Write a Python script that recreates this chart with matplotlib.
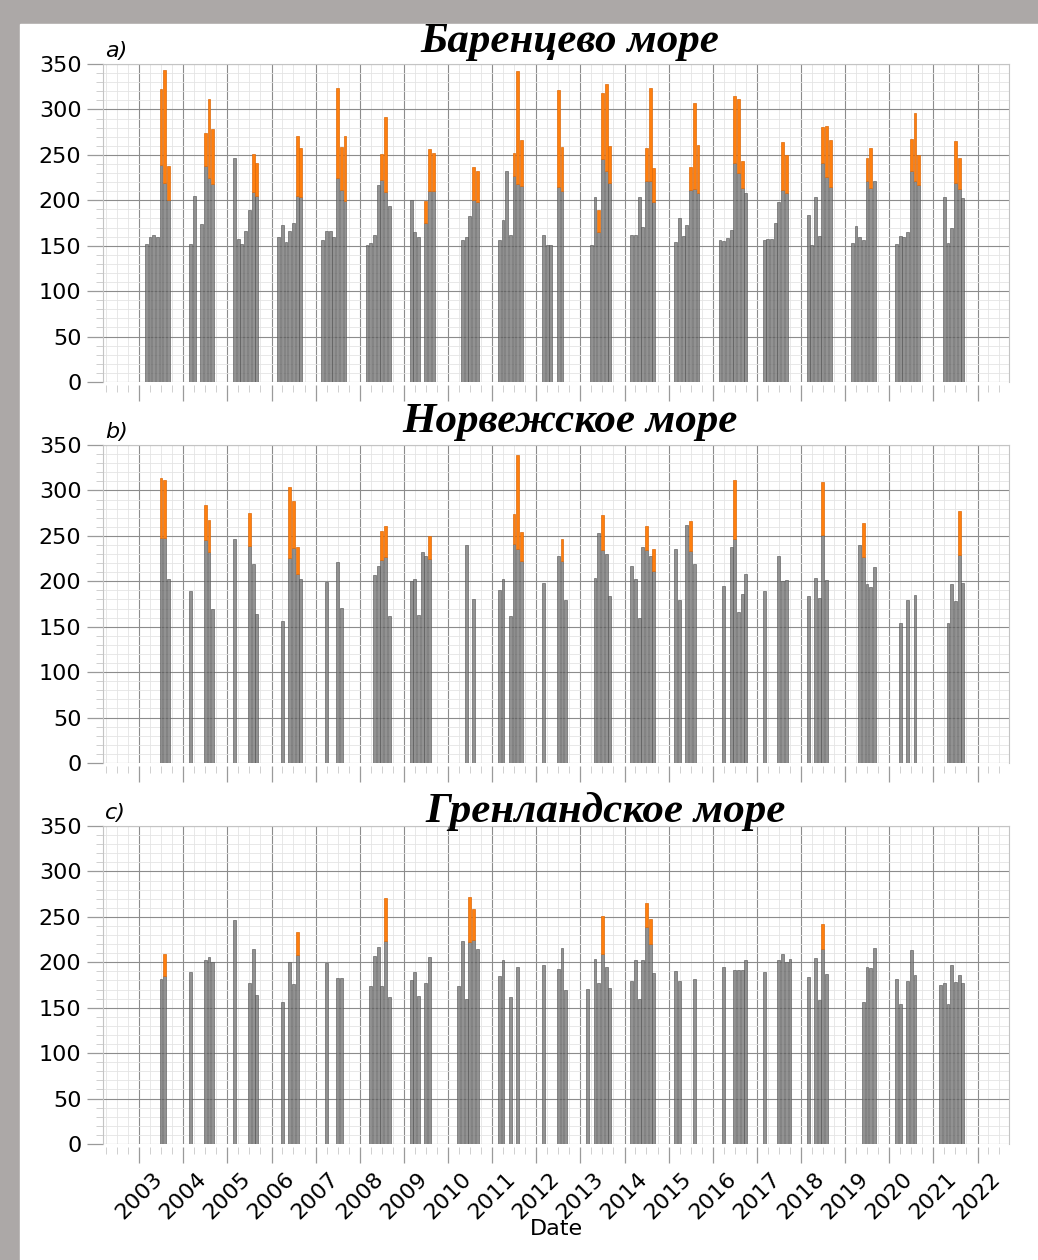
import matplotlib
matplotlib.use("Agg")
import matplotlib.pyplot as plt
import matplotlib.dates as mdates
from matplotlib.patches import Rectangle
from matplotlib.ticker import MultipleLocator
import pandas as pd

# Баренцево море: month, base value (grey), top of orange part (None = no orange)
barents_months = [
    "2003-03", "2003-04", "2003-05", "2003-06", "2003-07", "2003-08", "2003-09",
    "2004-03", "2004-04", "2004-06", "2004-07", "2004-08", "2004-09",
    "2005-03", "2005-04", "2005-05", "2005-06", "2005-07", "2005-08", "2005-09",
    "2006-03", "2006-04", "2006-05", "2006-06", "2006-07", "2006-08", "2006-09",
    "2007-03", "2007-04", "2007-05", "2007-06", "2007-07", "2007-08", "2007-09",
    "2008-03", "2008-04", "2008-05", "2008-06", "2008-07", "2008-08", "2008-09",
    "2009-03", "2009-04", "2009-05", "2009-07", "2009-08", "2009-09",
    "2010-05", "2010-06", "2010-07", "2010-08", "2010-09",
    "2011-03", "2011-04", "2011-05", "2011-06", "2011-07", "2011-08", "2011-09",
    "2012-03", "2012-04", "2012-05", "2012-07", "2012-08",
    "2013-04", "2013-05", "2013-06", "2013-07", "2013-08", "2013-09",
    "2014-03", "2014-04", "2014-05", "2014-06", "2014-07", "2014-08", "2014-09",
    "2015-03", "2015-04", "2015-05", "2015-06", "2015-07", "2015-08", "2015-09",
    "2016-03", "2016-04", "2016-05", "2016-06", "2016-07", "2016-08", "2016-09", "2016-10",
    "2017-03", "2017-04", "2017-05", "2017-06", "2017-07", "2017-08", "2017-09",
    "2018-03", "2018-04", "2018-05", "2018-06", "2018-07", "2018-08", "2018-09",
    "2019-03", "2019-04", "2019-05", "2019-06", "2019-07", "2019-08", "2019-09",
    "2020-03", "2020-04", "2020-05", "2020-06", "2020-07", "2020-08", "2020-09",
    "2021-04", "2021-05", "2021-06", "2021-07", "2021-08", "2021-09",
]
barents_base = [
    152, 160, 162, 160, 239, 219, 200,
    152, 205, 174, 238, 225, 218,
    246, 157, 152, 166, 189, 209, 205,
    160, 173, 154, 166, 175, 205, 204,
    156, 166, 166, 160, 225, 211, 199,
    151, 153, 162, 217, 222, 209, 194,
    200, 165, 160, 175, 210, 210,
    156, 160, 183, 200, 198,
    156, 178, 232, 162, 227, 218, 216,
    162, 151, 151, 215, 210,
    151, 204, 165, 245, 232, 219,
    162, 162, 204, 171, 221, 221, 198,
    154, 180, 161, 173, 211, 212, 208,
    156, 155, 159, 167, 241, 230, 214, 208,
    156, 157, 157, 175, 198, 211, 208,
    184, 151, 204, 161, 241, 226, 215,
    153, 172, 160, 156, 221, 214, 221,
    152, 161, 160, 165, 232, 221, 217,
    204, 153, 169, 219, 212, 203,
]
barents_peak = [
    None, None, None, None, 323, 343, 238,
    None, None, None, 274, 312, 279,
    None, None, None, None, None, 251, 241,
    None, None, None, None, None, 271, 257,
    None, None, None, None, 324, 259, 271,
    None, None, None, None, 251, 292, None,
    None, None, None, 199, 256, 252,
    None, None, None, 237, 232,
    None, None, None, None, 252, 342, 266,
    None, None, None, 321, 259,
    None, None, 189, 318, 328, 260,
    None, None, None, None, 258, 324, 236,
    None, None, None, None, 237, 307, 261,
    None, None, None, None, 315, 311, 243, None,
    None, None, None, None, None, 264, 250,
    None, None, None, None, 281, 282, 266,
    None, None, None, None, 246, 257, None,
    None, None, None, None, 268, 296, 250,
    None, None, None, 265, 246, None,
]

# Норвежское море
norway_months = [
    "2003-07", "2003-08", "2003-09",
    "2004-03", "2004-07", "2004-08", "2004-09",
    "2005-03", "2005-07", "2005-08", "2005-09",
    "2006-04", "2006-06", "2006-07", "2006-08", "2006-09",
    "2007-04", "2007-07", "2007-08",
    "2008-05", "2008-06", "2008-07", "2008-08", "2008-09",
    "2009-03", "2009-04", "2009-05", "2009-06", "2009-07", "2009-08",
    "2010-06", "2010-08",
    "2011-03", "2011-04", "2011-06", "2011-07", "2011-08", "2011-09",
    "2012-03", "2012-07", "2012-08", "2012-09",
    "2013-05", "2013-06", "2013-07", "2013-08", "2013-09",
    "2014-03", "2014-04", "2014-05", "2014-06", "2014-07", "2014-08", "2014-09",
    "2015-03", "2015-04", "2015-06", "2015-07", "2015-08",
    "2016-04", "2016-06", "2016-07", "2016-08", "2016-09", "2016-10",
    "2017-03", "2017-07", "2017-08", "2017-09",
    "2018-03", "2018-05", "2018-06", "2018-07", "2018-08",
    "2019-05", "2019-06", "2019-07", "2019-08", "2019-09",
    "2020-04", "2020-06", "2020-08",
    "2021-05", "2021-06", "2021-07", "2021-08", "2021-09",
]
norway_base = [
    248, 248, 203,
    189, 245, 232, 170,
    246, 239, 219, 164,
    156, 226, 237, 208, 203,
    199, 221, 171,
    207, 217, 223, 227, 162,
    200, 202, 163, 232, 228, 224,
    240, 180,
    190, 202, 162, 241, 235, 222,
    198, 228, 222, 179,
    204, 253, 234, 230, 184,
    217, 203, 160, 238, 234, 228, 211,
    235, 179, 262, 233, 219,
    195, 238, 246, 166, 186, 208,
    189, 228, 200, 201,
    184, 204, 182, 251, 201,
    240, 227, 197, 194, 216,
    154, 179, 185,
    154, 197, 178, 229, 198,
]
norway_peak = [
    314, 311, None,
    None, 284, 267, None,
    None, 275, None, None,
    None, 304, 288, 238, None,
    None, None, None,
    None, None, 255, 261, None,
    None, None, None, None, None, 250,
    None, None,
    None, None, None, 274, 339, 254,
    None, None, 247, None,
    None, None, 273, None, None,
    None, None, None, None, 261, None, 236,
    None, None, None, 266, None,
    None, None, 311, None, None, None,
    None, None, None, None,
    None, None, None, 309, None,
    None, 264, None, None, None,
    None, None, None,
    None, None, None, 277, None,
]

# Гренландское море
greenland_months = [
    "2003-07", "2003-08",
    "2004-03", "2004-07", "2004-08", "2004-09",
    "2005-03", "2005-07", "2005-08", "2005-09",
    "2006-04", "2006-06", "2006-07", "2006-08",
    "2007-04", "2007-07", "2007-08",
    "2008-04", "2008-05", "2008-06", "2008-07", "2008-08", "2008-09",
    "2009-03", "2009-04", "2009-05", "2009-07", "2009-08",
    "2010-04", "2010-05", "2010-06", "2010-07", "2010-08", "2010-09",
    "2011-03", "2011-04", "2011-06", "2011-08",
    "2012-03", "2012-07", "2012-08", "2012-09",
    "2013-03", "2013-05", "2013-06", "2013-07", "2013-08", "2013-09",
    "2014-03", "2014-04", "2014-05", "2014-06", "2014-07", "2014-08", "2014-09",
    "2015-03", "2015-04", "2015-08",
    "2016-04", "2016-07", "2016-08", "2016-09", "2016-10",
    "2017-03", "2017-07", "2017-08", "2017-09", "2017-10",
    "2018-03", "2018-05", "2018-06", "2018-07", "2018-08",
    "2019-06", "2019-07", "2019-08", "2019-09",
    "2020-03", "2020-04", "2020-06", "2020-07", "2020-08",
    "2021-03", "2021-04", "2021-05", "2021-06", "2021-07", "2021-08", "2021-09",
]
greenland_base = [
    182, 185,
    189, 203, 206, 200,
    246, 177, 215, 164,
    156, 200, 176, 208,
    199, 183, 183,
    174, 207, 217, 174, 223, 162,
    180, 189, 163, 177, 206,
    174, 223, 160, 222, 225, 215,
    185, 202, 162, 195,
    197, 193, 216, 170,
    171, 204, 177, 209, 195, 172,
    179, 202, 160, 202, 239, 220, 188,
    190, 179, 182,
    195, 192, 192, 192, 203,
    189, 202, 209, 200, 204,
    184, 205, 159, 215, 187,
    156, 195, 194, 216,
    182, 154, 179, 213, 186,
    175, 177, 154, 197, 178, 186, 177,
]
greenland_peak = [
    None, 209,
    None, None, None, None,
    None, None, None, None,
    None, None, None, 233,
    None, None, None,
    None, None, None, None, 271, None,
    None, None, None, None, None,
    None, None, None, 272, 259, None,
    None, None, None, None,
    None, None, None, None,
    None, None, None, 251, None, None,
    None, None, None, None, 265, 248, None,
    None, None, None,
    None, None, None, None, None,
    None, None, None, None, None,
    None, None, None, 242, None,
    None, None, None, None,
    None, None, None, None, None,
    None, None, None, None, None, None, None,
]

titles = ["Баренцево море", "Норвежское море", "Гренландское море"]
letters = ["a)", "b)", "c)"]

W, H = 1038, 1260
fig = plt.figure(figsize=(W / 100, H / 100), dpi=100, facecolor="#aca8a7")
fig.patches.append(Rectangle((20 / W, 0), 1 - 20 / W, 1 - 24 / H,
                             transform=fig.transFigure, color="white", zorder=-10))


def draw_panel(ax, months, base, peak, letter, show_labels):
    x = pd.to_datetime(months)
    ax.bar(x, base, width=24, color="#7f7f7f", alpha=0.85,
           edgecolor="#555555", linewidth=0.5, zorder=2)
    ox = [d for d, p in zip(x, peak) if p is not None]
    ob = [b for b, p in zip(base, peak) if p is not None]
    oh = [p - b for b, p in zip(base, peak) if p is not None]
    ax.bar(ox, oh, bottom=ob, width=24, color="#ff7f0e",
           edgecolor="#db6a0c", linewidth=0.5, zorder=2)

    ax.set_ylim(0, 350)
    ax.set_yticks(range(0, 351, 50))
    ax.yaxis.set_minor_locator(MultipleLocator(10))
    ax.set_xlim(pd.Timestamp("2002-03-08"), pd.Timestamp("2022-09-18"))
    ax.xaxis.set_major_locator(mdates.YearLocator())
    ax.xaxis.set_major_formatter(mdates.DateFormatter("%Y"))
    ax.xaxis.set_minor_locator(mdates.MonthLocator(bymonth=[1, 4, 7, 10]))

    ax.grid(which="major", color="#8c8c8c", linewidth=0.8, zorder=1)
    ax.grid(which="minor", color="#e4e4e4", linewidth=0.6, zorder=1)
    ax.set_axisbelow(True)
    ax.patch.set_alpha(0)

    for s in ax.spines.values():
        s.set_color("#c4c4c4")
    ax.spines["bottom"].set_position(("outward", 2.2))
    ax.spines["bottom"].set_visible(False)

    # lengths in points (dpi 100): ~16 px major, ~7 px minor
    ax.tick_params(which="major", length=11.5, width=0.9, color="#9a9a9a",
                   labelsize=16, pad=4)
    ax.tick_params(which="minor", length=5, width=0.7, color="#cfcfcf")
    ax.tick_params(axis="x", labelbottom=show_labels, labelrotation=45)

    ax.text(0.002, 1.01, letter, transform=ax.transAxes, fontsize=16,
            style="italic", ha="left", va="bottom")


left, width = 103 / W, 906 / W
tops = [64, 445, 826]
data = [
    (barents_months, barents_base, barents_peak),
    (norway_months, norway_base, norway_peak),
    (greenland_months, greenland_base, greenland_peak),
]
title_pos = [(570, 52), (570, 432), (606, 822)]

for i in range(3):
    top = tops[i]
    ax = fig.add_axes([left, 1 - (top + 318) / H, width, 318 / H])
    m, b, p = data[i]
    draw_panel(ax, m, b, p, letters[i], i == 2)
    fig.text(title_pos[i][0] / W, 1 - title_pos[i][1] / H, titles[i],
             ha="center", va="baseline", family="Liberation Serif",
             weight="bold", style="italic", fontsize=31)
    if i == 2:
        ax.set_xlabel("Date", fontsize=16, labelpad=-3)

fig.savefig("out.png", dpi=100, facecolor=fig.get_facecolor())
